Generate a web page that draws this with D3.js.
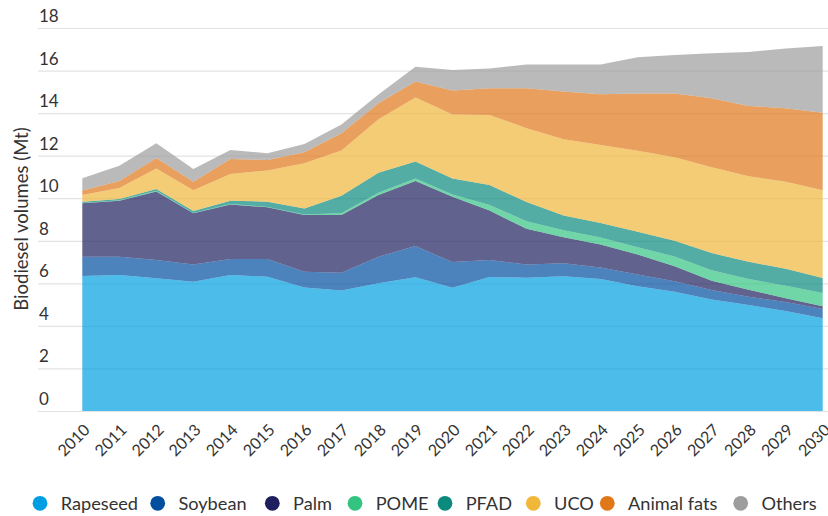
<!DOCTYPE html>
<html>
<head>
<meta charset="utf-8">
<script src="https://cdn.jsdelivr.net/npm/d3@7"></script>
<style>
  html, body { margin: 0; padding: 0; background: #fff; }
  svg { display: block; font-family: Lato, "Open Sans", sans-serif; }
</style>
</head>
<body>
<svg id="chart" width="828" height="516"></svg>
<script>
// ---- data ----
const years = [2010, 2011, 2012, 2013, 2014, 2015, 2016, 2017, 2018, 2019, 2020,
               2021, 2022, 2023, 2024, 2025, 2026, 2027, 2028, 2029, 2030];
const seriesNames = ["Rapeseed", "Soybean", "Palm", "POME", "PFAD", "UCO", "Animal fats", "Others"];
const seriesColors = ["#009fe3", "#004f9f", "#201f5e", "#33c481", "#0b8a7d", "#f0b73a", "#e07719", "#9d9d9d"];

const rapeseed   = [6.34, 6.39, 6.24, 6.08, 6.39, 6.31, 5.81, 5.66, 6.00, 6.29, 5.79, 6.30, 6.26, 6.33, 6.20, 5.86, 5.60, 5.24, 4.98, 4.70, 4.36];
const soybean    = [0.91, 0.86, 0.86, 0.81, 0.75, 0.83, 0.74, 0.84, 1.25, 1.46, 1.21, 0.80, 0.63, 0.61, 0.54, 0.55, 0.50, 0.45, 0.39, 0.42, 0.43];
const palm       = [2.51, 2.63, 3.22, 2.40, 2.57, 2.43, 2.66, 2.71, 2.90, 3.06, 3.07, 2.32, 1.67, 1.23, 1.09, 0.94, 0.70, 0.43, 0.33, 0.18, 0.13];
const pome       = [0.02, 0.02, 0.03, 0.02, 0.02, 0.02, 0.02, 0.08, 0.11, 0.12, 0.11, 0.26, 0.36, 0.32, 0.32, 0.35, 0.46, 0.50, 0.50, 0.59, 0.63];
const pfad       = [0.06, 0.06, 0.08, 0.09, 0.15, 0.25, 0.29, 0.83, 0.94, 0.80, 0.75, 0.94, 0.90, 0.70, 0.69, 0.72, 0.74, 0.80, 0.82, 0.79, 0.70];
const uco        = [0.31, 0.52, 0.97, 0.97, 1.26, 1.46, 2.12, 2.12, 2.51, 3.00, 3.01, 3.29, 3.47, 3.58, 3.66, 3.81, 3.92, 4.04, 4.01, 4.10, 4.12];
const animalFats = [0.21, 0.33, 0.49, 0.41, 0.70, 0.50, 0.52, 0.81, 0.75, 0.75, 1.12, 1.26, 1.88, 2.24, 2.39, 2.69, 3.00, 3.24, 3.31, 3.45, 3.65];
const others     = [0.58, 0.72, 0.69, 0.59, 0.43, 0.31, 0.39, 0.42, 0.42, 0.70, 0.97, 0.93, 1.12, 1.28, 1.40, 1.70, 1.81, 2.11, 2.53, 2.81, 3.13];

const yTicks = [0, 2, 4, 6, 8, 10, 12, 14, 16, 18];
const yTitle = "Biodiesel volumes (Mt)";

// ---- build table ----
const seriesValues = [rapeseed, soybean, palm, pome, pfad, uco, animalFats, others];
const table = years.map((yr, i) => {
  const row = { year: yr };
  seriesNames.forEach((n, k) => { row[n] = seriesValues[k][i]; });
  return row;
});

// ---- layout ----
const W = 828, H = 516;
const plotLeft = 82.3, plotRight = 822.7, plotTop = 28, plotBottom = 411;
const gridLeft = 38, gridRight = 828;
const legendCircleX = [40, 157.7, 272.3, 355, 445, 533.3, 607.3, 740.7];

const svg = d3.select("#chart");

const x = d3.scaleLinear().domain([years[0], years[years.length - 1]]).range([plotLeft, plotRight]);
const y = d3.scaleLinear().domain([0, 18]).range([plotBottom, plotTop]);
const color = d3.scaleOrdinal().domain(seriesNames).range(seriesColors);

// gridlines + y tick labels
const yAxis = svg.append("g")
  .attr("transform", `translate(${gridLeft},0)`)
  .call(d3.axisRight(y).tickValues(yTicks).tickSize(gridRight - gridLeft).tickFormat(d3.format("d")));
yAxis.select(".domain").remove();
yAxis.selectAll(".tick line").attr("stroke", "#e3e3e3").attr("stroke-width", 1.2);
yAxis.selectAll(".tick text")
  .attr("x", 1).attr("dy", -6.5)
  .attr("text-anchor", "start")
  .attr("fill", "#333").attr("font-size", 17)
  .attr("font-family", "Lato, sans-serif");

// stacked areas
const stack = d3.stack().keys(seriesNames);
const layers = stack(table);
const area = d3.area()
  .x(d => x(d.data.year))
  .y0(d => y(d[0]))
  .y1(d => y(d[1]));

svg.append("g").selectAll("path")
  .data(layers)
  .join("path")
  .attr("d", area)
  .attr("fill", d => color(d.key))
  .attr("fill-opacity", 0.7);

// x axis labels
const xAxis = svg.append("g")
  .attr("transform", `translate(0,${plotBottom})`)
  .call(d3.axisBottom(x).tickValues(years).tickSize(0).tickFormat(d3.format("d")));
xAxis.select(".domain").remove();
xAxis.selectAll(".tick text")
  .attr("y", 0).attr("dy", 0)
  .attr("transform", "translate(8,20) rotate(-45)")
  .attr("text-anchor", "end")
  .attr("fill", "#333").attr("font-size", 16)
  .attr("font-family", "Lato, sans-serif");

// y axis title
svg.append("text")
  .attr("transform", "translate(20.5,219) rotate(-90)")
  .attr("text-anchor", "middle")
  .attr("dominant-baseline", "central")
  .attr("fill", "#333")
  .attr("font-size", 18.5)
  .text(yTitle);

// legend
const legend = svg.append("g");
const ly = 503.3;
seriesNames.forEach((n, k) => {
  const lx = legendCircleX[k];
  legend.append("circle").attr("cx", lx).attr("cy", ly).attr("r", 7.4).attr("fill", color(n));
  legend.append("text")
    .attr("x", lx + 20.7).attr("y", ly).attr("dy", "0.35em")
    .attr("fill", "#333").attr("font-size", 18.2)
    .text(n);
});
</script>
</body>
</html>
